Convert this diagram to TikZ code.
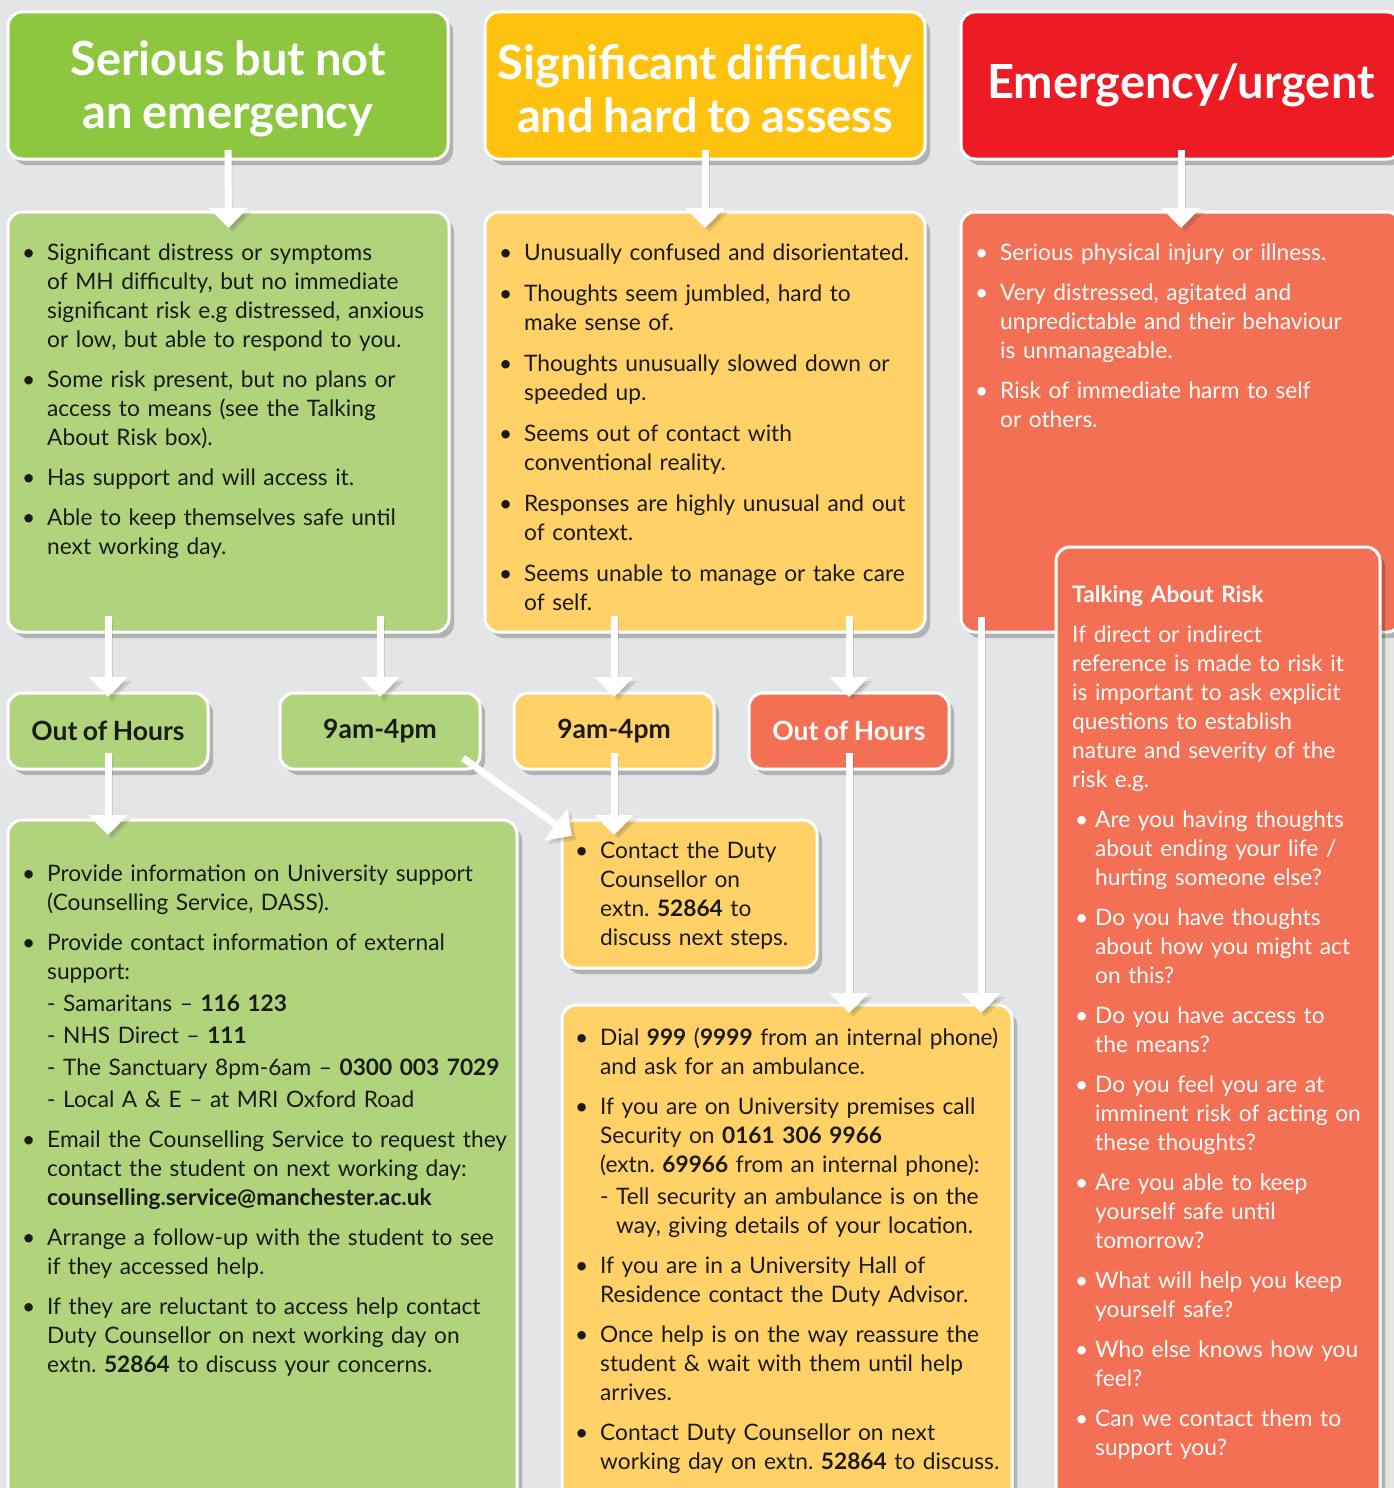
\documentclass[tikz,border=0pt]{standalone}
\usepackage{fontspec}
\setmainfont{Lato}[WordSpace=0.85]
\usetikzlibrary{
  positioning,
  arrows.meta,
  shadows,
  calc
}
\usepackage{xcolor}
\definecolor{bgGrey}{HTML}{E4E5E7}
\definecolor{hdGreen}{HTML}{8DC63F}
\definecolor{bxGreen}{HTML}{AFD47B}
\definecolor{hdYellow}{HTML}{FFC20E}
\definecolor{bxYellow}{HTML}{FFD166}
\definecolor{hdRed}{HTML}{ED1C24}
\definecolor{bxRed}{HTML}{F37054}
\definecolor{inkBlack}{HTML}{1A1A1A}
\tikzstyle{whitearrow} = [draw=white,line width=7pt,-{Triangle[width=38pt,length=20pt]},
  preaction={draw=black!70, opacity=0.16, transform canvas={shift={(4pt,-4pt)}}}]
\frenchspacing
\makeatletter
\newcommand{\bul}[1]{\noindent\hangindent=23pt\hangafter=1\makebox[23pt][l]{\hspace{-2pt}\textbullet}{\let\\\@normalcr#1}\par}
\newcommand{\rbul}[1]{\noindent\hangindent=23pt\hangafter=1\makebox[23pt][l]{\hspace{3pt}\textbullet}{\let\\\@normalcr#1}\par}
\newcommand{\para}[1]{\noindent{\let\\\@normalcr#1}\par}
\makeatother

\begin{document}
\begin{tikzpicture}[x=1pt,y=-1pt,
boxnode/.style={rectangle, rounded corners=14pt, draw=white, line width=3pt, outer sep=0pt, anchor=north west,
  drop shadow={shadow xshift=5pt, shadow yshift=-6pt, opacity=0.22, fill=black}},
headnode/.style={boxnode, minimum width=440pt, minimum height=147pt, text=white, align=center,
  font=\fontsize{47}{53}\selectfont\bfseries},
timenode/.style={boxnode, minimum width=200pt, minimum height=76pt, text=inkBlack,
  font=\fontsize{26.5}{30}\selectfont\bfseries},
textnode/.style={anchor=north west, inner sep=0pt, text width=600pt, text=inkBlack,
  font=\fontsize{22.7}{29}\selectfont, execute at begin node={\setlength{\parskip}{11pt}}},
]
\useasboundingbox (0,0) rectangle (1394,1488);
\clip (0,0) rectangle (1394,1488);
\fill[bgGrey] (0,0) rectangle (1394,1488);

%Headers
\node[headnode, fill=hdGreen]  (hSerious) at (8,12)   {\rule{0pt}{41pt}Serious but not\\an emergency};
\node[headnode, fill=hdYellow] (hDiff)    at (485,12) {\rule{0pt}{41pt}Significant difficulty\\and hard to assess};
\node[headnode, fill=hdRed]    (hEmerg)   at (961,12) {Emergency/urgent};

%Body boxes
\node[boxnode, fill=bxGreen,  minimum width=441pt, minimum height=420pt] (bSerious) at (8,212)   {};
\node[boxnode, fill=bxYellow, minimum width=440pt, minimum height=420pt] (bDiff)    at (485,212) {};
\node[boxnode, fill=bxRed,    minimum width=440pt, minimum height=420pt] (bEmerg)   at (961,212) {};

%Time boxes
\node[timenode, fill=bxGreen]  (tOoh1) at (8,693)   {Out of Hours};
\node[timenode, fill=bxGreen]  (tDay1) at (280,693) {9am-4pm};
\node[timenode, fill=bxYellow] (tDay2) at (514,693) {9am-4pm};
\node[timenode, fill=bxRed, text=white] (tOoh2) at (749,693) {Out of Hours};

%Action boxes
\node[boxnode, fill=bxGreen,  minimum width=509pt, minimum height=720pt]  (sAct)   at (8,820)    {};
\node[boxnode, fill=bxYellow, minimum width=255pt, minimum height=148pt]  (sCall)  at (562,820)  {};
\node[boxnode, fill=bxYellow, minimum width=450pt, minimum height=540pt]  (sEmerg) at (562,1005) {};
\node[boxnode, fill=bxRed,    minimum width=324pt, minimum height=1000pt] (risk)   at (1056,547) {};

%Texts
\node[textnode] (bSerious-t) at ($(bSerious.north west)+(16,32)$) {%
\bul{Significant distress or symptoms\\of MH difficulty, but no immediate\\significant risk e.g distressed, anxious\\or low, but able to respond to you.}
\bul{Some risk present, but no plans or\\access to means (see the Talking\\About Risk box).}
\bul{Has support and will access it.}
\bul{Able to keep themselves safe until\\next working day.}};

\node[textnode, execute at begin node={\setlength{\parskip}{12pt}}] (bDiff-t) at ($(bDiff.north west)+(16,32)$) {%
\bul{Unusually confused and disorientated.}
\bul{Thoughts seem jumbled, hard to\\make sense of.}
\bul{Thoughts unusually slowed down or\\speeded up.}
\bul{Seems out of contact with\\conventional reality.}
\bul{Responses are highly unusual and out\\of context.}
\bul{Seems unable to manage or take care\\of self.}};

\node[textnode, text=white] (bEmerg-t) at ($(bEmerg.north west)+(16,32)$) {%
\bul{Serious physical injury or illness.}
\bul{Very distressed, agitated and\\unpredictable and their behaviour\\is unmanageable.}
\bul{Risk of immediate harm to self\\or others.}};

\node[textnode, text=white] (risk-t) at ($(risk.north west)+(16,38)$) {%
\para{\textbf{Talking About Risk}}
\para{If direct or indirect\\reference is made to risk it\\is important to ask explicit\\questions to establish\\nature and severity of the\\risk e.g.}
\rbul{Are you having thoughts\\about ending your life /\\hurting someone else?}
\rbul{Do you have thoughts\\about how you might act\\on this?}
\rbul{Do you have access to\\the means?}
\rbul{Do you feel you are at\\imminent risk of acting on\\these thoughts?}
\rbul{Are you able to keep\\yourself safe until\\tomorrow?}
\rbul{What will help you keep\\yourself safe?}
\rbul{Who else knows how you\\feel?}
\rbul{Can we contact them to\\support you?}};

\node[textnode] (sAct-t) at ($(sAct.north west)+(16,45)$) {%
\bul{Provide information on University support\\(Counselling Service, DASS).}
\bul{Provide contact information of external\\support:\\[3pt]- Samaritans – \textbf{116 123}\\[3pt]- NHS Direct – \textbf{111}\\[3pt]- The Sanctuary 8pm-6am – \textbf{0300 003 7029}\\[3pt]- Local A \& E – at MRI Oxford Road}
\bul{Email the Counselling Service to request they\\contact the student on next working day:\\\textbf{counselling.service@manchester.ac.uk}}
\bul{Arrange a follow-up with the student to see\\if they accessed help.}
\bul{If they are reluctant to access help contact\\Duty Counsellor on next working day on\\extn. \textbf{52864} to discuss your concerns.}};

\node[textnode] (sCall-t) at ($(sCall.north west)+(15,22)$) {%
\bul{Contact the Duty\\Counsellor on\\extn. \textbf{52864} to\\discuss next steps.}};

\node[textnode] (sEmerg-t) at ($(sEmerg.north west)+(15,23)$) {%
\bul{Dial \textbf{999} (\textbf{9999} from an internal phone)\\and ask for an ambulance.}
\bul{If you are on University premises call\\Security on \textbf{0161 306 9966}\\(extn. \textbf{69966} from an internal phone):\\[3pt]\makebox[16pt][l]{-}Tell security an ambulance is on the\\\hspace*{16pt}way, giving details of your location.}
\bul{If you are in a University Hall of\\Residence contact the Duty Advisor.}
\bul{Once help is on the way reassure the\\student \& wait with them until help\\arrives.}
\bul{Contact Duty Counsellor on next\\working day on extn. \textbf{52864} to discuss.}};

%Lines
\draw[whitearrow] ([yshift=9pt]hSerious.south) -- ([yshift=-16pt]bSerious.north);
\draw[whitearrow] ([yshift=9pt]hDiff.south) -- ([yshift=-16pt]bDiff.north);
\draw[whitearrow] ([yshift=9pt]hEmerg.south) -- ([yshift=-16pt]bEmerg.north);
\draw[whitearrow] ($(tOoh1.north |- bSerious.south)+(0,-16)$) -- ($(tOoh1.north)+(0,4)$);
\draw[whitearrow] ($(tDay1.north |- bSerious.south)+(0,-16)$) -- ($(tDay1.north)+(0,4)$);
\draw[whitearrow] ($(tDay2.north |- bDiff.south)+(0,-16)$) -- ($(tDay2.north)+(0,4)$);
\draw[whitearrow] ($(tOoh2.north |- bDiff.south)+(0,-16)$) -- ($(tOoh2.north)+(0,4)$);
\draw[whitearrow] ($(tOoh1.south)+(0,-16)$) -- ($(tOoh1.south |- sAct.north)+(0,15)$);
\draw[whitearrow] ($(tDay1.south east)+(-17,-11)$) -- ($(sCall.north west)+(10,16)$);
\draw[whitearrow] ($(tDay2.south)+(0,-16)$) -- ($(tDay2.south |- sCall.north)+(0,15)$);
\draw[whitearrow] ($(tOoh2.south)+(0,-16)$) -- ($(tOoh2.south |- sEmerg.north)+(0,8)$);
\draw[whitearrow] ($(bEmerg.south west)+(20,-15)$) -- ($(bEmerg.south west |- sEmerg.north)+(20,8)$);
\end{tikzpicture}
\end{document}
